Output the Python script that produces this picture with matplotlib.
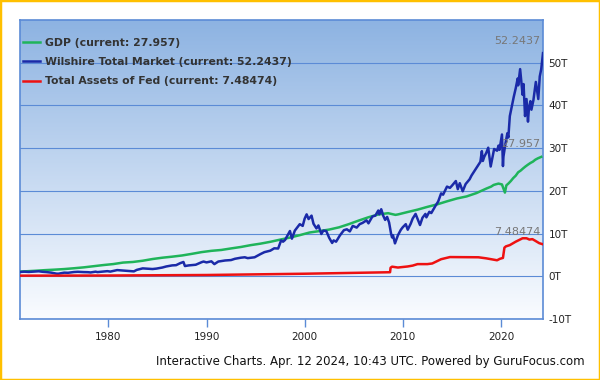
import numpy as np
import matplotlib
matplotlib.use("Agg")
import matplotlib.pyplot as plt
from matplotlib.patches import Rectangle
from matplotlib.colors import LinearSegmentedColormap

# GDP, trillions
gdp_years = [1971.0, 1971.5, 1972.5, 1973.5, 1974.5, 1975.5, 1976.5, 1977.5, 1978.5, 1979.5,
             1980.5, 1981.5, 1982.5, 1983.5, 1984.5, 1985.5, 1986.5, 1987.5, 1988.5, 1989.5,
             1990.5, 1991.5, 1992.5, 1993.5, 1994.5, 1995.5, 1996.5, 1997.5, 1998.5, 1999.5,
             2000.5, 2001.5, 2002.5, 2003.5, 2004.5, 2005.5, 2006.5, 2007.5, 2008.5, 2009.25,
             2009.5, 2010.5, 2011.5, 2012.5, 2013.5, 2014.5, 2015.5, 2016.5, 2017.5, 2018.5,
             2019.0, 2019.25, 2019.5, 2019.75, 2020.1, 2020.4, 2020.55, 2020.75, 2021.0, 2021.25,
             2021.5, 2021.75, 2022.0, 2022.25, 2022.5, 2022.75, 2023.0, 2023.25, 2023.5, 2023.75,
             2024.1]
gdp_vals = [1.10, 1.16, 1.28, 1.43, 1.55, 1.69, 1.88, 2.09, 2.36, 2.63,
            2.86, 3.21, 3.35, 3.64, 4.04, 4.35, 4.59, 4.87, 5.25, 5.66,
            5.96, 6.16, 6.52, 6.86, 7.29, 7.64, 8.07, 8.58, 9.06, 9.63,
            10.25, 10.58, 10.94, 11.46, 12.21, 13.04, 13.82, 14.47, 14.77, 14.38,
            14.48, 15.05, 15.60, 16.25, 16.84, 17.55, 18.21, 18.70, 19.48, 20.53,
            21.00, 21.38, 21.55, 21.70, 21.50, 19.60, 21.30, 21.70, 22.30, 23.00,
            23.55, 24.35, 24.74, 25.25, 25.72, 26.14, 26.53, 26.84, 27.30, 27.61,
            27.957]

# Wilshire total market
wil_years = [1971.0, 1971.4, 1971.9, 1972.5, 1972.9, 1973.3, 1973.7, 1974.2, 1974.7, 1974.9,
             1975.5, 1975.9, 1976.5, 1976.9, 1977.5, 1977.9, 1978.2, 1978.7, 1978.9, 1979.5,
             1979.9, 1980.2, 1980.9, 1981.5, 1982.6, 1982.9, 1983.5, 1984.5, 1984.9, 1985.5,
             1985.9, 1986.5, 1986.9, 1987.3, 1987.65, 1987.8, 1988.2, 1988.9, 1989.5, 1989.7,
             1990.0, 1990.5, 1990.8, 1991.2, 1991.9, 1992.5, 1992.9, 1993.5, 1993.9, 1994.2,
             1994.9, 1995.5, 1995.9, 1996.5, 1996.9, 1997.3, 1997.6, 1997.8, 1998.0, 1998.5,
             1998.7, 1999.0, 1999.5, 1999.8, 2000.0, 2000.2, 2000.4, 2000.7, 2000.9, 2001.2,
             2001.4, 2001.7, 2001.9, 2002.2, 2002.5, 2002.8, 2002.95, 2003.2, 2003.6, 2004.0,
             2004.3, 2004.6, 2004.9, 2005.3, 2005.6, 2005.9, 2006.3, 2006.5, 2006.9, 2007.2,
             2007.5, 2007.6, 2007.8, 2008.0, 2008.2, 2008.4, 2008.6, 2008.8, 2008.9, 2009.0,
             2009.2, 2009.5, 2009.8, 2010.0, 2010.3, 2010.5, 2010.8, 2011.0, 2011.3, 2011.6,
             2011.75, 2012.0, 2012.3, 2012.4, 2012.7, 2012.9, 2013.3, 2013.6, 2013.9, 2014.1,
             2014.5, 2014.8, 2015.0, 2015.4, 2015.6, 2015.8, 2016.1, 2016.4, 2016.8, 2017.0,
             2017.5, 2017.9, 2018.05, 2018.15, 2018.3, 2018.5, 2018.7, 2018.95, 2019.3, 2019.6,
             2019.75, 2019.85, 2020.1, 2020.2, 2020.25, 2020.45, 2020.65, 2020.75, 2020.9, 2021.1,
             2021.3, 2021.5, 2021.7, 2021.75, 2021.95, 2022.05, 2022.2, 2022.3, 2022.45, 2022.6,
             2022.75, 2022.85, 2023.0, 2023.1, 2023.3, 2023.55, 2023.8, 2023.95, 2024.1, 2024.28]
wil_vals = [1.00, 1.08, 1.02, 1.12, 1.17, 1.05, 0.98, 0.85, 0.62, 0.60,
            0.85, 0.82, 1.00, 1.05, 0.98, 0.96, 0.90, 1.08, 0.98, 1.10,
            1.20, 1.10, 1.45, 1.35, 1.15, 1.50, 1.85, 1.70, 1.80, 2.05,
            2.30, 2.55, 2.60, 3.05, 3.35, 2.40, 2.55, 2.70, 3.30, 3.45,
            3.25, 3.50, 2.85, 3.45, 3.70, 3.80, 4.10, 4.35, 4.45, 4.25,
            4.45, 5.20, 5.65, 6.00, 6.55, 6.50, 8.40, 8.10, 8.50, 10.60,
            8.80, 10.70, 12.20, 11.80, 13.50, 14.50, 13.40, 14.20, 12.30, 11.20,
            11.90, 9.90, 10.70, 10.60, 9.00, 7.80, 8.40, 8.10, 9.60, 10.80,
            11.00, 10.50, 11.80, 11.40, 12.20, 12.50, 13.10, 12.40, 14.00, 14.20,
            15.40, 14.50, 15.70, 14.20, 13.20, 13.90, 12.60, 10.00, 9.10, 9.60,
            7.70, 9.60, 10.90, 11.50, 12.20, 10.90, 12.30, 13.50, 14.60, 12.90,
            12.00, 13.70, 14.60, 13.80, 15.10, 14.80, 16.40, 17.50, 19.40, 19.10,
            21.00, 20.70, 21.20, 22.30, 20.40, 21.80, 19.90, 21.60, 22.70, 23.60,
            25.40, 26.80, 29.30, 27.00, 28.00, 28.90, 30.10, 25.70, 29.80, 29.40,
            30.60, 29.60, 33.20, 25.80, 28.00, 31.00, 33.50, 32.50, 37.50, 39.80,
            42.00, 44.00, 46.30, 44.70, 48.50, 46.00, 42.50, 45.00, 37.50, 41.50,
            36.20, 39.50, 41.00, 39.00, 41.20, 45.50, 41.50, 46.80, 48.50, 52.2437]

# Total assets of the Fed
fed_years = [1971.0, 1980.0, 1990.0, 1995.0, 2000.0, 2003.0, 2007.0, 2008.7, 2008.75, 2008.9,
             2009.5, 2010.5, 2011.0, 2011.5, 2012.5, 2013.0, 2013.9, 2014.8, 2017.7, 2018.5,
             2019.6, 2019.9, 2020.2, 2020.35, 2020.5, 2020.9, 2021.5, 2022.2, 2022.6, 2022.9,
             2023.2, 2023.5, 2023.9, 2024.28]
fed_vals = [0.15, 0.18, 0.30, 0.45, 0.60, 0.72, 0.88, 0.95, 2.00, 2.25,
            2.05, 2.30, 2.50, 2.85, 2.85, 3.00, 4.00, 4.50, 4.45, 4.20,
            3.75, 4.10, 4.30, 6.70, 7.00, 7.30, 8.10, 8.90, 8.90, 8.60,
            8.70, 8.30, 7.75, 7.48474]

labels = ["GDP (current: 27.957)",
          "Wilshire Total Market (current: 52.2437)",
          "Total Assets of Fed (current: 7.48474)"]
last_vals = ["27.957", "52.2437", "7.48474"]
colors = ["#1fb45a", "#1a2aa8", "#ee1111"]

y_ticks = [-10, 0, 10, 20, 30, 40, 50]
x_ticks = [1980, 1990, 2000, 2010, 2020]

fig = plt.figure(figsize=(6, 3.8), dpi=100)
ax = fig.add_axes([20 / 600, 1 - 319 / 380, 523 / 600, 299 / 380])

# background gradient
grad = LinearSegmentedColormap.from_list("bg", ["#fafcff", "#8db3e2"])
ax.imshow(np.linspace(0, 1, 256).reshape(-1, 1), cmap=grad, origin="lower",
          extent=[0, 1, 0, 1], transform=ax.transAxes, aspect="auto", zorder=0)

series = [(gdp_years, gdp_vals), (wil_years, wil_vals), (fed_years, fed_vals)]
for (xs, ys), c, lab in zip(series, colors, labels):
    ax.plot(xs, ys, color=c, lw=1.8, label=lab, zorder=3)

ax.set_xlim(1971.0, 2024.28)
ax.set_ylim(-10, 60)
ax.set_yticks(y_ticks)
ax.set_yticklabels([f"{v}T" for v in y_ticks])
ax.set_xticks(x_ticks)
ax.yaxis.tick_right()
ax.tick_params(axis="y", length=0, pad=4, labelsize=7.5, labelcolor="#222222")
ax.tick_params(axis="x", length=6, width=1, color="#5b8bd6", pad=3,
               labelsize=7.5, labelcolor="#222222")
ax.grid(axis="y", color="#5b8bd6", lw=0.8, zorder=1)
for s in ax.spines.values():
    s.set_color("#5b8bd6")
    s.set_linewidth(1.2)

# last value labels
for v, txt in zip([27.957, 52.2437, 7.48474], last_vals):
    ax.annotate(txt, (2024.28, v), xytext=(-2, 9), textcoords="offset points",
                ha="right", va="center", fontsize=8, color="#777777", zorder=4)

leg = ax.legend(loc="upper left", bbox_to_anchor=(0.006, 0.94), frameon=False,
                borderaxespad=0, borderpad=0, handlelength=1.55, handletextpad=0.5,
                labelspacing=0.85, prop={"size": 7.8, "weight": "bold"})
for t in leg.get_texts():
    t.set_color("#333333")

fig.text(585 / 600, 1 - 361 / 380,
         "Interactive Charts. Apr. 12 2024, 10:43 UTC. Powered by GuruFocus.com",
         ha="right", va="center", fontsize=8.45, color="#111111")

fig.patches.append(Rectangle((0, 0), 1, 1, transform=fig.transFigure, fill=False,
                             edgecolor="#ffc000", lw=2.5))

fig.savefig("out.png", dpi=100)
